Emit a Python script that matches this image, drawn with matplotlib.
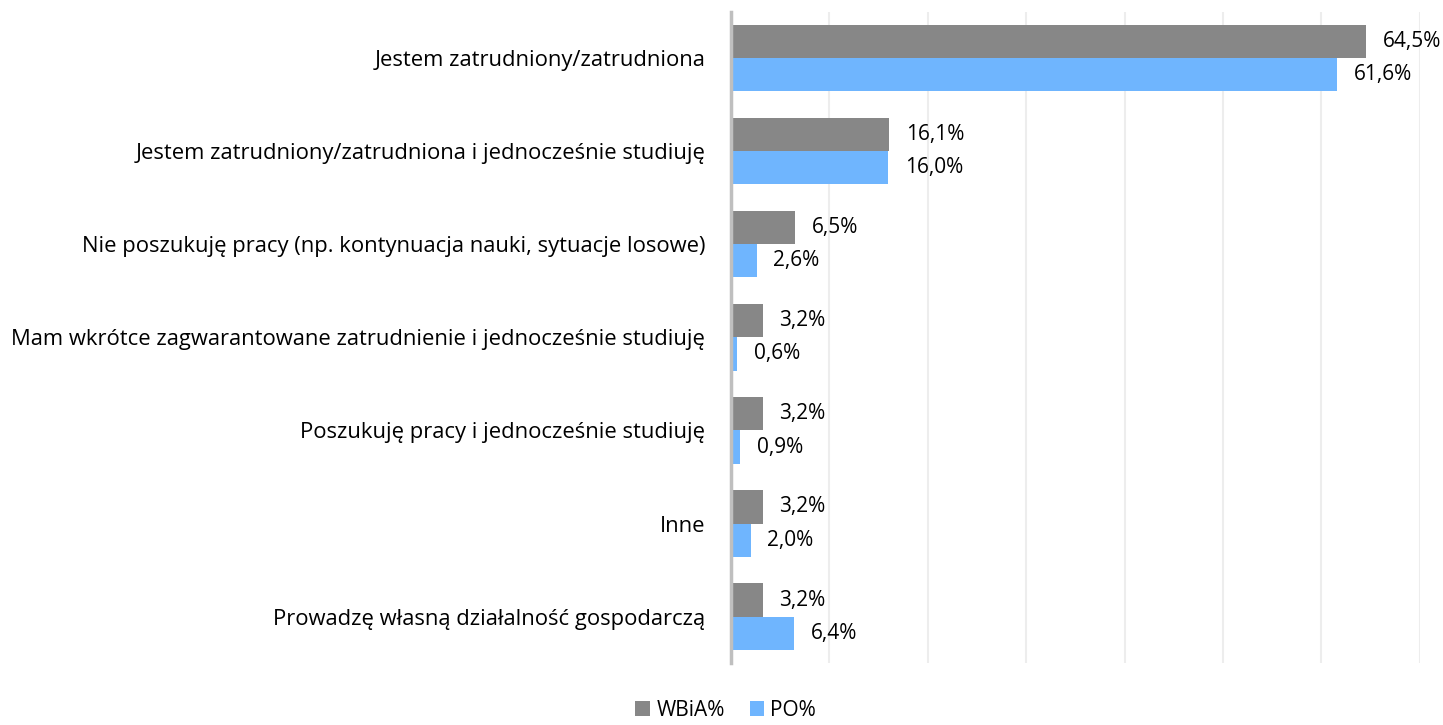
import matplotlib.pyplot as plt
import numpy as np

categories = [
    'Jestem zatrudniony/zatrudniona',
    'Jestem zatrudniony/zatrudniona i jednocześnie studiuję',
    'Nie poszukuję pracy (np. kontynuacja nauki, sytuacje losowe)',
    'Mam wkrótce zagwarantowane zatrudnienie i jednocześnie studiuję',
    'Poszukuję pracy i jednocześnie studiuję',
    'Inne',
    'Prowadzę własną działalność gospodarczą',
]
wbia = [64.5, 16.1, 6.5, 3.2, 3.2, 3.2, 3.2]
po = [61.6, 16.0, 2.6, 0.6, 0.9, 2.0, 6.4]

plt.rcParams['font.family'] = ['Open Sans', 'DejaVu Sans']

fig = plt.figure(figsize=(14.43, 7.25), dpi=100)
ax = fig.add_axes([0.5066, 0.0855, 0.4774, 0.898])

y = np.arange(len(categories))
h = 0.355
grey = '#878787'
blue = '#6fb5fe'
ax.barh(y - h / 2, wbia, height=h, color=grey, label='WBiA%', zorder=3)
ax.barh(y + h / 2, po, height=h, color=blue, label='PO%', zorder=3)

for yi, v in zip(y, wbia):
    ax.annotate(f'{v:.1f}%'.replace('.', ','), (v, yi - h / 2), xytext=(12, 0),
                textcoords='offset points', va='center', ha='left', fontsize=15)
for yi, v in zip(y, po):
    ax.annotate(f'{v:.1f}%'.replace('.', ','), (v, yi + h / 2), xytext=(12, 0),
                textcoords='offset points', va='center', ha='left', fontsize=15)

ax.set_xlim(0, 70)
ax.set_ylim(len(categories) - 0.5, -0.5)
ax.set_xticks(np.arange(0, 71, 10))
ax.xaxis.grid(True, color='#ededed', linewidth=1.5, zorder=0)
ax.tick_params(axis='x', bottom=False, labelbottom=False)
ax.set_yticks(y)
ax.set_yticklabels(categories, fontsize=15.8)
ax.tick_params(axis='y', left=False, pad=15)
for s in ['top', 'right', 'bottom']:
    ax.spines[s].set_visible(False)
ax.spines['left'].set_color('#bfbfbf')
ax.spines['left'].set_linewidth(2.5)
ax.spines['left'].set_zorder(4)

fig.legend(loc='lower center', bbox_to_anchor=(0.503, -0.02), ncol=2, frameon=False,
           fontsize=15, handlelength=0.7, handleheight=0.7, handletextpad=0.3,
           columnspacing=1.2)

fig.savefig('out.png', dpi=100)
